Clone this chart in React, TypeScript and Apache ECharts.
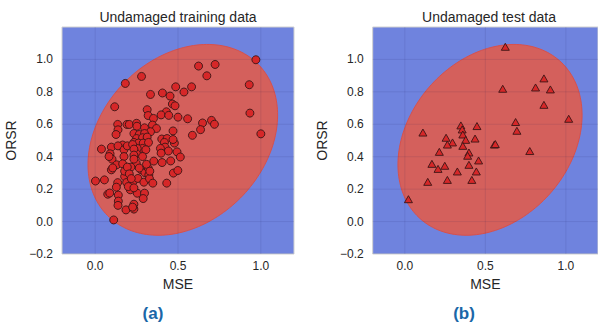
import React, { useEffect, useRef } from "react";
import * as echarts from "echarts";

// ---- Data ----
const trainMSE = [
  0.970, 0.724, 0.624, 0.674, 0.930, 0.280, 0.182, 0.486, 0.582, 0.536,
  0.406, 0.334, 0.452, 0.466, 0.482, 0.118, 0.934, 1.000, 0.314, 0.320,
  0.352, 0.430, 0.398, 0.444, 0.500, 0.558, 0.702, 0.720, 0.648, 0.636,
  0.587, 0.470, 0.136, 0.192, 0.206, 0.250, 0.252, 0.138, 0.126, 0.234,
  0.298, 0.346, 0.370, 0.334, 0.266, 0.298, 0.250, 0.286, 0.314, 0.234,
  0.262, 0.290, 0.322, 0.286, 0.306, 0.254, 0.250, 0.286, 0.402, 0.434,
  0.418, 0.478, 0.422, 0.394, 0.442, 0.494, 0.398, 0.470, 0.514, 0.038,
  0.098, 0.090, 0.166, 0.138, 0.174, 0.194, 0.226, 0.234, 0.234, 0.102,
  0.002, 0.056, 0.098, 0.130, 0.136, 0.128, 0.178, 0.190, 0.212, 0.232,
  0.200, 0.076, 0.088, 0.140, 0.140, 0.138, 0.186, 0.112, 0.234, 0.234,
  0.254, 0.298, 0.290, 0.258, 0.278, 0.300, 0.324, 0.294, 0.328, 0.348,
  0.320, 0.310, 0.354, 0.404, 0.456, 0.472, 0.499, 0.432, 0.248, 0.266,
  0.216, 0.234, 0.174, 0.084, 0.166, 0.178, 0.194, 0.206, 0.234, 0.218,
  0.226, 0.106, 0.330,
];
const trainORSR = [
  0.998, 0.969, 0.959, 0.899, 0.844, 0.895, 0.852, 0.831, 0.831, 0.799,
  0.793, 0.784, 0.774, 0.725, 0.714, 0.708, 0.669, 0.541, 0.690, 0.654,
  0.636, 0.677, 0.658, 0.655, 0.644, 0.634, 0.624, 0.600, 0.608, 0.567,
  0.532, 0.559, 0.599, 0.599, 0.599, 0.606, 0.588, 0.566, 0.537, 0.543,
  0.578, 0.595, 0.574, 0.554, 0.537, 0.543, 0.512, 0.517, 0.521, 0.488,
  0.484, 0.484, 0.488, 0.451, 0.443, 0.451, 0.418, 0.401, 0.509, 0.512,
  0.488, 0.484, 0.459, 0.451, 0.435, 0.430, 0.422, 0.506, 0.398, 0.447,
  0.459, 0.418, 0.472, 0.467, 0.443, 0.467, 0.475, 0.447, 0.410, 0.385,
  0.250, 0.257, 0.319, 0.350, 0.240, 0.212, 0.278, 0.241, 0.196, 0.251,
  0.216, 0.169, 0.176, 0.163, 0.126, 0.100, 0.072, 0.010, 0.107, 0.077,
  0.175, 0.175, 0.142, 0.266, 0.319, 0.302, 0.288, 0.243, 0.265, 0.237,
  0.330, 0.353, 0.373, 0.364, 0.374, 0.299, 0.315, 0.237, 0.360, 0.330,
  0.336, 0.385, 0.401, 0.401, 0.356, 0.311, 0.336, 0.294, 0.208, 0.265,
  0.089, 0.331, 0.311,
];
const testMSE = [
  0.624, 0.864, 0.812, 0.904, 0.608, 0.864, 1.018, 0.688, 0.696, 0.348,
  0.448, 0.356, 0.112, 0.256, 0.360, 0.378, 0.296, 0.264, 0.360, 0.436,
  0.556, 0.562, 0.776, 0.214, 0.398, 0.390, 0.458, 0.168, 0.248, 0.206,
  0.398, 0.326, 0.444, 0.142, 0.264, 0.416, 0.022,
];
const testORSR = [
  1.078, 0.883, 0.827, 0.815, 0.819, 0.720, 0.634, 0.614, 0.560, 0.593,
  0.589, 0.568, 0.549, 0.517, 0.537, 0.504, 0.488, 0.475, 0.467, 0.512,
  0.475, 0.478, 0.435, 0.430, 0.426, 0.406, 0.377, 0.356, 0.344, 0.325,
  0.350, 0.309, 0.309, 0.245, 0.257, 0.257, 0.138,
];

// Decision boundary ellipse (data units): centre and two half-axis vectors
const ELLIPSE_CENTER = [0.529, 0.504];
const ELLIPSE_AXIS_1 = [0.454, 0.467];
const ELLIPSE_AXIS_2 = [-0.348, 0.358];

const xTicks = [0.0, 0.5, 1.0];
const yTicks = [-0.2, 0.0, 0.2, 0.4, 0.6, 0.8, 1.0];
const AXIS_MIN = -0.2;
const AXIS_MAX = 1.2;

const titles = ["Undamaged training data", "Undamaged test data"];
const captions = ["(a)", "(b)"];

const FONT = "'Liberation Sans', Arial, Helvetica, sans-serif";
const TEXT = "#262626";
const BG_BLUE = "#6f83de";
const RED_FILL = "#d4605c";

function fmt(v: number) {
  const s = Math.abs(v).toFixed(1);
  return v < -1e-9 ? "\u2212" + s : s;
}

function ellipseSeries(idx: number) {
  return {
    type: "custom",
    xAxisIndex: idx,
    yAxisIndex: idx,
    z: 1,
    silent: true,
    clip: true,
    data: [ELLIPSE_CENTER],
    renderItem: (params: any, api: any) => {
      const pts: number[][] = [];
      const N = 180;
      for (let i = 0; i < N; i++) {
        const t = (2 * Math.PI * i) / N;
        const x = ELLIPSE_CENTER[0] + ELLIPSE_AXIS_1[0] * Math.cos(t) + ELLIPSE_AXIS_2[0] * Math.sin(t);
        const y = ELLIPSE_CENTER[1] + ELLIPSE_AXIS_1[1] * Math.cos(t) + ELLIPSE_AXIS_2[1] * Math.sin(t);
        pts.push(api.coord([x, y]));
      }
      const children: any[] = [
        {
          type: "polygon",
          shape: { points: pts },
          style: { fill: RED_FILL, stroke: "#d8504c", lineWidth: 1 },
        },
      ];
      const gridStyle = { stroke: "rgba(30,30,90,0.10)", lineWidth: 1 };
      xTicks.forEach((v) => {
        const a = api.coord([v, AXIS_MIN]);
        const b = api.coord([v, AXIS_MAX]);
        children.push({ type: "line", shape: { x1: a[0], y1: a[1], x2: b[0], y2: b[1] }, style: gridStyle });
      });
      yTicks.forEach((v) => {
        const a = api.coord([AXIS_MIN, v]);
        const b = api.coord([AXIS_MAX, v]);
        children.push({ type: "line", shape: { x1: a[0], y1: a[1], x2: b[0], y2: b[1] }, style: gridStyle });
      });
      return { type: "group", children };
    },
  };
}

function xAxis(idx: number) {
  return {
    type: "value",
    gridIndex: idx,
    min: AXIS_MIN,
    max: AXIS_MAX,
    name: "MSE",
    nameLocation: "middle",
    nameGap: 18,
    nameTextStyle: { fontSize: 14, color: TEXT, fontFamily: FONT },
    axisLine: { show: false },
    axisTick: { show: false },
    splitLine: { show: false },
    axisLabel: {
      customValues: xTicks,
      formatter: (v: number) => fmt(v),
      fontSize: 12,
      color: TEXT,
      fontFamily: FONT,
      margin: 6,
    },
  };
}

function yAxis(idx: number) {
  return {
    type: "value",
    gridIndex: idx,
    min: AXIS_MIN,
    max: AXIS_MAX,
    name: "ORSR",
    nameLocation: "middle",
    nameGap: 44,
    nameTextStyle: { fontSize: 14, color: TEXT, fontFamily: FONT },
    axisLine: { show: false },
    axisTick: { show: false },
    splitLine: { show: false },
    axisLabel: {
      customValues: yTicks,
      formatter: (v: number) => fmt(v),
      fontSize: 12,
      color: TEXT,
      fontFamily: FONT,
      margin: 9,
    },
  };
}

export default function App() {
  const ref = useRef<HTMLDivElement>(null);
  useEffect(() => {
    if (!ref.current) return;
    const chart = echarts.init(ref.current, undefined, { renderer: "svg" });
    const trainData = trainMSE.map((x, i) => [x, trainORSR[i]]);
    const testData = testMSE.map((x, i) => [x, testORSR[i]]);
    const pointStyle = { color: "#d62728", borderColor: "#3a1515", borderWidth: 0.9, opacity: 1 };
    chart.setOption({
      animation: false,
      backgroundColor: "#ffffff",
      grid: [
        { left: 62, top: 27, width: 232, height: 227, show: true, backgroundColor: BG_BLUE, borderColor: "#d0d0d0", borderWidth: 1 },
        { left: 372.7, top: 27, width: 233.3, height: 227, show: true, backgroundColor: BG_BLUE, borderColor: "#d0d0d0", borderWidth: 1 },
      ],
      xAxis: [xAxis(0), xAxis(1)],
      yAxis: [yAxis(0), yAxis(1)],
      graphic: [
        { type: "text", x: 178, y: 17, style: { text: titles[0], fill: TEXT, font: `14px ${FONT}`, textAlign: "center", textVerticalAlign: "middle" } },
        { type: "text", x: 489, y: 17, style: { text: titles[1], fill: TEXT, font: `14px ${FONT}`, textAlign: "center", textVerticalAlign: "middle" } },
        { type: "text", x: 153, y: 313, style: { text: captions[0], fill: "#1a67a8", font: `bold 17px ${FONT}`, textAlign: "center", textVerticalAlign: "middle" } },
        { type: "text", x: 464, y: 313, style: { text: captions[1], fill: "#1a67a8", font: `bold 17px ${FONT}`, textAlign: "center", textVerticalAlign: "middle" } },
      ],
      series: [
        ellipseSeries(0),
        ellipseSeries(1),
        {
          type: "scatter",
          xAxisIndex: 0,
          yAxisIndex: 0,
          z: 3,
          symbol: "circle",
          symbolSize: 8,
          itemStyle: pointStyle,
          data: trainData,
        },
        {
          type: "scatter",
          xAxisIndex: 1,
          yAxisIndex: 1,
          z: 3,
          symbol: "triangle",
          symbolSize: [8, 7],
          itemStyle: pointStyle,
          data: testData,
        },
      ],
    });
    return () => chart.dispose();
  }, []);
  return (
    <div
      ref={ref}
      style={{ position: "fixed", left: 0, top: 0, width: 598, height: 323, background: "#fff" }}
    />
  );
}
